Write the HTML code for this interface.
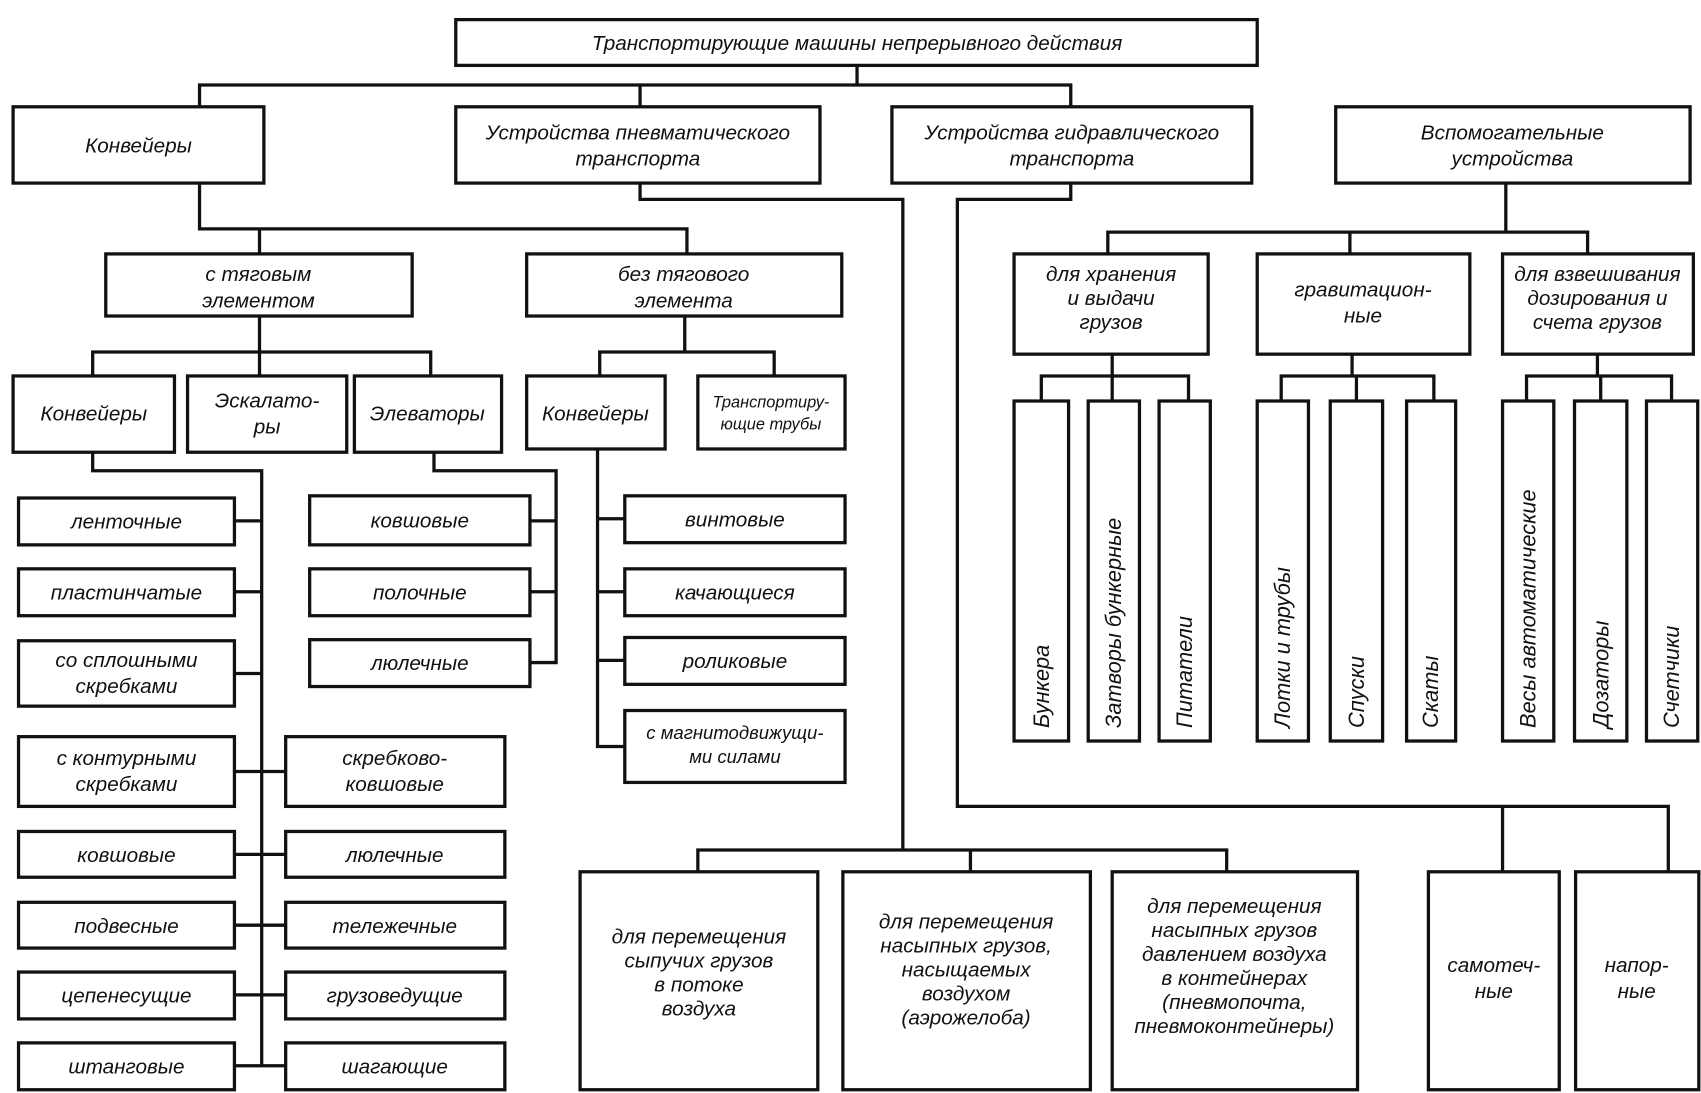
<!DOCTYPE html>
<html><head><meta charset="utf-8"><style>
html,body{margin:0;padding:0;background:#fff;}
svg{display:block}
text{font-family:"Liberation Sans","DejaVu Sans",sans-serif;font-style:italic;font-size:19px;fill:#111;text-anchor:middle}
text.v{text-anchor:start;font-size:20px}
</style></head><body>
<svg width="1701" height="1093" viewBox="0 0 1560 1003" preserveAspectRatio="none" xmlns="http://www.w3.org/2000/svg">
<g fill="#fff" stroke="#111" stroke-width="3">
<rect x="418" y="18" width="735" height="42"/>
<rect x="12" y="98" width="230" height="70"/>
<rect x="418" y="98" width="334" height="70"/>
<rect x="818" y="98" width="330" height="70"/>
<rect x="1225" y="98" width="325" height="70"/>
<rect x="97" y="233" width="281" height="57"/>
<rect x="483" y="233" width="289" height="57"/>
<rect x="930" y="233" width="178" height="92"/>
<rect x="1153" y="233" width="195" height="92"/>
<rect x="1378" y="233" width="175" height="92"/>
<rect x="12" y="345" width="148" height="70"/>
<rect x="172" y="345" width="146" height="70"/>
<rect x="325" y="345" width="135" height="70"/>
<rect x="483" y="345" width="127" height="67"/>
<rect x="640" y="345" width="135" height="67"/>
<rect x="17" y="457" width="198" height="43"/>
<rect x="17" y="522" width="198" height="43"/>
<rect x="17" y="588" width="198" height="60"/>
<rect x="17" y="676" width="198" height="64"/>
<rect x="17" y="763" width="198" height="42"/>
<rect x="17" y="828" width="198" height="42"/>
<rect x="17" y="892" width="198" height="43"/>
<rect x="17" y="957" width="198" height="43"/>
<rect x="262" y="676" width="201" height="64"/>
<rect x="262" y="763" width="201" height="42"/>
<rect x="262" y="828" width="201" height="42"/>
<rect x="262" y="892" width="201" height="43"/>
<rect x="262" y="957" width="201" height="43"/>
<rect x="284" y="455" width="202" height="45"/>
<rect x="284" y="522" width="202" height="43"/>
<rect x="284" y="587" width="202" height="43"/>
<rect x="573" y="455" width="202" height="43"/>
<rect x="573" y="522" width="202" height="43"/>
<rect x="573" y="585" width="202" height="43"/>
<rect x="573" y="652" width="202" height="66"/>
<rect x="930" y="368" width="50" height="312"/>
<rect x="998" y="368" width="47" height="312"/>
<rect x="1063" y="368" width="47" height="312"/>
<rect x="1153" y="368" width="47" height="312"/>
<rect x="1220" y="368" width="48" height="312"/>
<rect x="1290" y="368" width="45" height="312"/>
<rect x="1378" y="368" width="47" height="312"/>
<rect x="1444" y="368" width="48" height="312"/>
<rect x="1510" y="368" width="47" height="312"/>
<rect x="532" y="800" width="218" height="200"/>
<rect x="773" y="800" width="227" height="200"/>
<rect x="1020" y="800" width="225" height="200"/>
<rect x="1310" y="800" width="120" height="200"/>
<rect x="1445" y="800" width="113" height="200"/>
</g>
<g fill="none" stroke="#111" stroke-width="3">
<path d="M786 60V78M183 98V78H982V98M587 78V98"/>
<path d="M183 168V210H630V233M238 210V233"/>
<path d="M238 290V323M85 345V323H395V345M238 323V345"/>
<path d="M628 290V323M550 345V323H710V345"/>
<path d="M85 415V432H240V978M215 478H240M215 543H240M215 618H240M215 708H262M215 784H262M215 849H262M215 913H262M215 978H262"/>
<path d="M398 415V432H510V608H486M486 478H510M486 543H510"/>
<path d="M548 412V685H573M548 476H573M548 543H573M548 606H573"/>
<path d="M587 168V183H828V780M640 800V780H1125V800M890 780V800"/>
<path d="M982 168V183H878V740H1530V800M1378 740V800"/>
<path d="M1381 168V213M1016 233V213H1456V233M1238 213V233"/>
<path d="M1020 325V345M955 368V345H1090V368M1020 345V368"/>
<path d="M1240 325V345M1175 368V345H1315V368M1244 345V368"/>
<path d="M1465 325V345M1400 368V345H1533V368M1468 345V368"/>
</g>
<text x="786" y="46">Транспортирующие машины непрерывного действия</text>
<text x="127" y="140">Конвейеры</text>
<text x="585" y="128">Устройства пневматического<tspan x="585" dy="24">транспорта</tspan></text>
<text x="983" y="128">Устройства гидравлического<tspan x="983" dy="24">транспорта</tspan></text>
<text x="1387" y="128">Вспомогательные<tspan x="1387" dy="24">устройства</tspan></text>
<text x="237" y="258">с тяговым<tspan x="237" dy="24">элементом</tspan></text>
<text x="627" y="258">без тягового<tspan x="627" dy="24">элемента</tspan></text>
<text x="1019" y="258">для хранения<tspan x="1019" dy="22">и выдачи</tspan><tspan x="1019" dy="22">грузов</tspan></text>
<text x="1250" y="272">гравитацион-<tspan x="1250" dy="24">ные</tspan></text>
<text x="1465" y="258">для взвешивания<tspan x="1465" dy="22">дозирования и</tspan><tspan x="1465" dy="22">счета грузов</tspan></text>
<text x="86" y="386">Конвейеры</text>
<text x="245" y="374">Эскалато-<tspan x="245" dy="24">ры</tspan></text>
<text x="392" y="386">Элеваторы</text>
<text x="546" y="386">Конвейеры</text>
<text x="707" y="374" style="font-size:15px">Транспортиру-<tspan x="707" dy="20">ющие трубы</tspan></text>
<text x="116" y="485">ленточные</text>
<text x="116" y="550">пластинчатые</text>
<text x="116" y="612">со сплошными<tspan x="116" dy="24">скребками</tspan></text>
<text x="116" y="702">с контурными<tspan x="116" dy="24">скребками</tspan></text>
<text x="116" y="791">ковшовые</text>
<text x="116" y="856">подвесные</text>
<text x="116" y="920">цепенесущие</text>
<text x="116" y="985">штанговые</text>
<text x="362" y="702">скребково-<tspan x="362" dy="24">ковшовые</tspan></text>
<text x="362" y="791">люлечные</text>
<text x="362" y="856">тележечные</text>
<text x="362" y="920">грузоведущие</text>
<text x="362" y="985">шагающие</text>
<text x="385" y="484">ковшовые</text>
<text x="385" y="550">полочные</text>
<text x="385" y="615">люлечные</text>
<text x="674" y="483">винтовые</text>
<text x="674" y="550">качающиеся</text>
<text x="674" y="613">роликовые</text>
<text x="674" y="678" style="font-size:17px">с магнитодвижущи-<tspan x="674" dy="22">ми силами</tspan></text>
<text class="v" transform="translate(962,668) rotate(-90)">Бункера</text>
<text class="v" transform="translate(1028,668) rotate(-90)">Затворы бункерные</text>
<text class="v" transform="translate(1093,668) rotate(-90)">Питатели</text>
<text class="v" transform="translate(1183,668) rotate(-90)">Лотки и трубы</text>
<text class="v" transform="translate(1251,668) rotate(-90)">Спуски</text>
<text class="v" transform="translate(1319,668) rotate(-90)">Скаты</text>
<text class="v" transform="translate(1408,668) rotate(-90)">Весы автоматические</text>
<text class="v" transform="translate(1475,668) rotate(-90)">Дозаторы</text>
<text class="v" transform="translate(1540,668) rotate(-90)">Счетчики</text>
<text x="641" y="866">для перемещения<tspan x="641" dy="22">сыпучих грузов</tspan><tspan x="641" dy="22">в потоке</tspan><tspan x="641" dy="22">воздуха</tspan></text>
<text x="886" y="852">для перемещения<tspan x="886" dy="22">насыпных грузов,</tspan><tspan x="886" dy="22">насыщаемых</tspan><tspan x="886" dy="22">воздухом</tspan><tspan x="886" dy="22">(аэрожелоба)</tspan></text>
<text x="1132" y="838">для перемещения<tspan x="1132" dy="22">насыпных грузов</tspan><tspan x="1132" dy="22">давлением воздуха</tspan><tspan x="1132" dy="22">в контейнерах</tspan><tspan x="1132" dy="22">(пневмопочта,</tspan><tspan x="1132" dy="22">пневмоконтейнеры)</tspan></text>
<text x="1370" y="892">самотеч-<tspan x="1370" dy="24">ные</tspan></text>
<text x="1501" y="892">напор-<tspan x="1501" dy="24">ные</tspan></text>
</svg>
</body></html>
